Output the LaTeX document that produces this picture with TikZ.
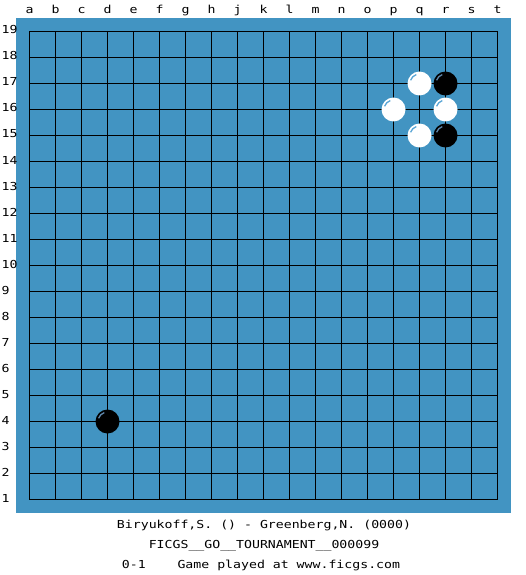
\documentclass[tikz,border=0pt]{standalone}
\usepackage{fontspec}
\setmonofont{DejaVu Sans Mono}[FakeStretch=1.2]
\definecolor{board}{HTML}{4294C2}
\definecolor{hlb}{HTML}{5E86AA}
\definecolor{hlw}{HTML}{5AA6D6}
\tikzset{
  lbl/.style={font=\ttfamily\fontsize{11}{13}\selectfont, inner sep=0pt, anchor=base},
  rowlbl/.style={lbl, anchor=base west},
  stone/.style={circle, minimum size=24pt, inner sep=0pt},
  bstone/.style={stone, fill=black},
  wstone/.style={stone, fill=white},
  gridline/.style={line width=1pt, black},
}
\begin{document}
\begin{tikzpicture}[x=1pt,y=-1pt]
\useasboundingbox (0,0) rectangle (525,575);
\fill[white] (0,0) rectangle (525,575);
\fill[board] (16,18) rectangle (511,513);
% grid
\foreach \i in {0,...,18} {
  \draw[gridline] (29.5+26*\i,31.5) -- (29.5+26*\i,499.5);
  \draw[gridline] (29.5,31.5+26*\i) -- (497.5,31.5+26*\i);
}
% column labels
\foreach \l [count=\i from 0] in {a,b,c,d,e,f,g,h,j,k,l,m,n,o,p,q,r,s,t} {
  \node[lbl] (col\l) at (29.5+26*\i,14) {\l};
}
% row labels
\foreach \r in {1,...,19} {
  \node[rowlbl] (row\r) at (1.5,31.5+26*19-26*\r+2.5) {\r};
}
% stones
\foreach \name/\c/\r/\s in {q17/15/17/wstone, r17/16/17/bstone, p16/14/16/wstone, r16/16/16/wstone, q15/15/15/wstone, r15/16/15/bstone, d4/3/4/bstone} {
  \node[\s] (\name) at (29.5+26*\c,31.5+26*19-26*\r) {};
}
% highlights
\foreach \name in {r17,r15,d4} {
  \draw[hlb, line width=1.3pt] ([shift={(200:9.5)}]\name.center) arc[start angle=200,end angle=250,radius=9.5];
}
\foreach \name in {q17,p16,r16,q15} {
  \draw[hlw, line width=1.3pt] ([shift={(200:9.5)}]\name.center) arc[start angle=200,end angle=250,radius=9.5];
}
% footer
\node[lbl] (t1) at (264,528.5) {Biryukoff,S. () - Greenberg,N. (0000)};
\node[lbl] (t2) at (264,548.5) {FICGS\_\_GO\_\_TOURNAMENT\_\_000099};
\node[lbl] (t3) at (261,568.5) {0-1\ \ \ \ Game played at www.ficgs.com};
\end{tikzpicture}
\end{document}
